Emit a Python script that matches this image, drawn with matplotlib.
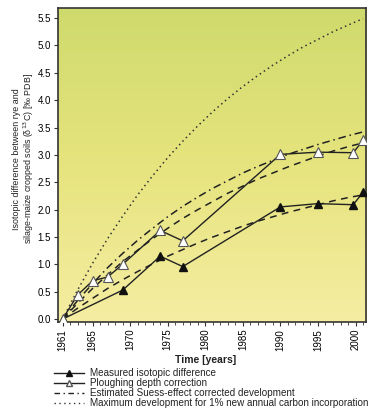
import numpy as np
import matplotlib
matplotlib.use("Agg")
import matplotlib.pyplot as plt
from matplotlib.colors import LinearSegmentedColormap
from matplotlib.lines import Line2D

# Measured data
meas_years = [1961, 1969, 1974, 1977, 1990, 1995, 1999.7, 2001]
meas_vals = [0.0, 0.53, 1.15, 0.96, 2.05, 2.11, 2.09, 2.32]
plough_years = [1961, 1963, 1965, 1967, 1969, 1974, 1977, 1990, 1995, 1999.7, 2001]
plough_vals = [0.0, 0.44, 0.70, 0.77, 1.00, 1.62, 1.43, 3.01, 3.05, 3.04, 3.27]

# Curves
curve_years = [1961, 1963, 1965, 1967, 1969, 1971, 1973, 1975, 1977, 1979, 1981,
               1983, 1985, 1987, 1989, 1991, 1993, 1995, 1997, 1999, 2001]
max_dev = [0.0, 0.53, 1.02, 1.47, 1.88, 2.27, 2.62, 2.95, 3.25, 3.53, 3.79,
           4.03, 4.25, 4.45, 4.64, 4.81, 4.97, 5.11, 5.25, 5.37, 5.49]
suess = [0.0, 0.34, 0.65, 0.94, 1.20, 1.44, 1.66, 1.87, 2.06, 2.23, 2.39,
         2.53, 2.67, 2.79, 2.90, 3.01, 3.10, 3.19, 3.27, 3.35, 3.42]
fit_plough = [0.0, 0.29, 0.56, 0.81, 1.05, 1.26, 1.47, 1.66, 1.84, 2.00, 2.15,
              2.30, 2.43, 2.56, 2.67, 2.78, 2.88, 2.98, 3.07, 3.15, 3.22]
fit_meas = [0.0, 0.20, 0.38, 0.56, 0.72, 0.87, 1.01, 1.15, 1.27, 1.39, 1.50,
            1.60, 1.70, 1.79, 1.87, 1.95, 2.02, 2.09, 2.16, 2.22, 2.27]

xticks = [1961, 1965, 1970, 1975, 1980, 1985, 1990, 1995, 2000]
yticks = [0.0, 0.5, 1.0, 1.5, 2.0, 2.5, 3.0, 3.5, 4.0, 4.5, 5.0, 5.5]
legend_labels = ["Measured isotopic difference",
                 "Ploughing depth correction",
                 "Estimated Suess-effect corrected development",
                 "Maximum development for 1% new annual carbon incorporation"]

plt.rcParams['font.family'] = ['Liberation Sans', 'DejaVu Sans']

fig = plt.figure(figsize=(3.72, 4.09), dpi=100)
ax = fig.add_axes([0.156, 0.213, 0.828, 0.767])

# gradient background
cmap = LinearSegmentedColormap.from_list("bg", ["#f5eda2", "#e6e47e", "#cfda6c"])
grad = np.linspace(0, 1, 256).reshape(-1, 1)
ax.imshow(grad, extent=[0, 1, 0, 1], transform=ax.transAxes, cmap=cmap,
          aspect='auto', origin='lower', zorder=0)

ax.plot(curve_years, max_dev, color='#333333', lw=1.1, linestyle=(0, (1, 2.2)), zorder=2)
ax.plot(curve_years, suess, color='#222222', lw=1.1, linestyle=(0, (5, 2.5, 1, 2.5)), zorder=2)
ax.plot(curve_years, fit_plough, color='#222222', lw=1.1, linestyle=(0, (4.5, 3.5)), zorder=2)
ax.plot(curve_years, fit_meas, color='#222222', lw=1.1, linestyle=(0, (4.5, 3.5)), zorder=2)

ax.plot(meas_years, meas_vals, color='#222222', lw=1.0, marker='^', markersize=6,
        markerfacecolor='#111111', markeredgecolor='#111111', zorder=3)
ax.plot(plough_years, plough_vals, color='#222222', lw=1.0, marker='^', markersize=6.5,
        markerfacecolor='white', markeredgecolor='#555555', markeredgewidth=0.8, zorder=3)

ax.set_xlim(1960.4, 2001.4)
ax.set_ylim(-0.05, 5.68)
ax.set_xticks(xticks)
ax.set_xticklabels([str(x) for x in xticks], rotation=90)
ax.set_xticks(np.arange(1961, 2002, 1), minor=True)
ax.set_yticks(yticks)
ax.set_yticklabels([f"{v:.1f}" for v in yticks])
ax.tick_params(axis='both', labelsize=7, color='#333333', width=0.8, length=3, pad=2)
ax.tick_params(axis='x', which='minor', length=2, width=0.6, color='#333333')
for s in ax.spines.values():
    s.set_color('#333333')
    s.set_linewidth(1.2)

ax.set_xlabel("Time [years]", fontsize=7.5, fontweight='bold', color='#222222')
ax.xaxis.label.set_va('center')
ax.xaxis.set_label_coords(0.48, -0.122)
ax.set_ylabel("Isotopic difference between rye and\nsilage-maize cropped soils (δ$^{13}$C) [‰ PDB]",
              fontsize=6.4, labelpad=2, color='#222222', linespacing=1.0)
ax.yaxis.set_label_coords(-0.072, 0.52)

# legend
handles = [
    Line2D([], [], color='#222222', lw=1.0, marker='^', markersize=5,
           markerfacecolor='#111111', markeredgecolor='#111111'),
    Line2D([], [], color='#222222', lw=1.0, marker='^', markersize=5,
           markerfacecolor='white', markeredgecolor='#555555'),
    Line2D([], [], color='#222222', lw=1.0, linestyle=(0, (4, 2.5, 1, 2.5))),
    Line2D([], [], color='#333333', lw=1.0, linestyle=(0, (1, 2.5))),
]
leg = fig.legend(handles, legend_labels, loc='upper left', bbox_to_anchor=(0.145, 0.1),
                 frameon=False, fontsize=7.1, handlelength=3.0, handletextpad=0.7,
                 labelspacing=0.0, borderaxespad=0, borderpad=0)
for t in leg.get_texts():
    t.set_color('#222222')

fig.savefig("out.png", dpi=100)
